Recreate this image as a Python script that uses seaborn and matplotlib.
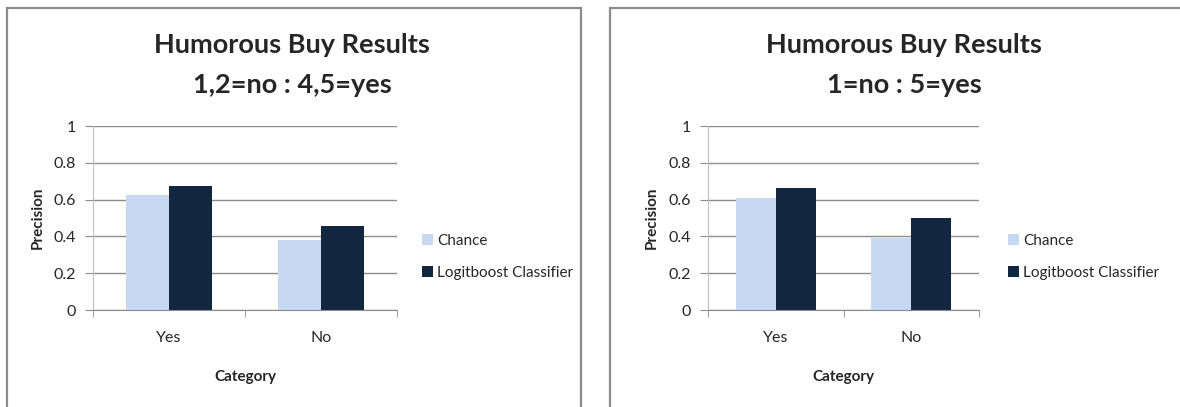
import numpy as np
import pandas as pd
import matplotlib
matplotlib.use('Agg')
import matplotlib.pyplot as plt
from matplotlib.patches import Rectangle, Patch
import seaborn as sns

# data
categories = ['Yes', 'No']
methods = ['Chance', 'Logitboost Classifier']
chance_12_45 = [0.625, 0.38]
logit_12_45 = [0.672, 0.458]
chance_1_5 = [0.61, 0.39]
logit_1_5 = [0.663, 0.50]
yticks = [0, 0.2, 0.4, 0.6, 0.8, 1.0]
ytick_labels = ['0', '0.2', '0.4', '0.6', '0.8', '1']
titles = ['1,2=no : 4,5=yes', '1=no : 5=yes']

colors = ['#C6D9F1', '#12263F']

sns.set_style('white')
plt.rcParams['font.family'] = ['Lato', 'DejaVu Sans']

W, H = 1180, 407
fig = plt.figure(figsize=(W / 100, H / 100), dpi=100)


def to_df(chance, logit):
    return pd.DataFrame({
        'Category': categories * 2,
        'Method': [methods[0]] * 2 + [methods[1]] * 2,
        'Precision': list(chance) + list(logit),
    })


def draw_panel(df, box, axrect, title2, title_x, legend_x, ylab_x, width):
    """one excel-like chart inside a grey box"""
    # grey frame around the chart
    x0, x1, y0 = box
    fig.patches.append(Rectangle((x0 / W, -0.05), (x1 - x0) / W, 1 - y0 / H + 0.05,
                                 transform=fig.transFigure, fill=False,
                                 edgecolor='#8C8C8C', linewidth=1.6))

    left, right, top, bottom = axrect
    ax = fig.add_axes([left / W, 1 - bottom / H, (right - left) / W, (bottom - top) / H])
    sns.barplot(data=df, x='Category', y='Precision', hue='Method', palette=colors,
                saturation=1, width=width, linewidth=0, ax=ax, legend=False)

    ax.set_ylim(0, 1)
    ax.set_xlim(-0.5, 1.5)
    ax.set_yticks(yticks)
    ax.set_yticklabels(ytick_labels)
    ax.yaxis.grid(True, color='#8C8C8C', linewidth=1)
    ax.set_axisbelow(True)
    for s in ['top', 'right']:
        ax.spines[s].set_visible(False)
    ax.spines['left'].set_color('#BFBFBF')
    ax.spines['bottom'].set_color('#8C8C8C')
    ax.tick_params(axis='y', length=6, color='#8C8C8C', labelsize=11.5, pad=6, left=True)
    ax.tick_params(axis='x', which='major', length=0, labelsize=11.5, pad=15)
    ax.set_xticks([-0.5, 0.5, 1.5], minor=True)
    ax.tick_params(axis='x', which='minor', length=5, color='#8C8C8C', bottom=True)

    ax.set_xlabel('Category', fontsize=11, fontweight='bold')
    ax.set_ylabel('Precision', fontsize=11, fontweight='bold')
    ax.xaxis.label.set_va('center')
    ax.yaxis.label.set_va('center')
    ax.xaxis.set_label_coords(0.5, (bottom - 377) / (bottom - top))
    ax.yaxis.set_label_coords((ylab_x - left) / (right - left), 0.5)

    # two line title
    fig.text(title_x / W, 1 - 45 / H, 'Humorous Buy Results', ha='center', va='center',
             fontsize=19.5, fontweight='bold')
    fig.text(title_x / W, 1 - 85 / H, title2, ha='center', va='center',
             fontsize=19.5, fontweight='bold')

    handles = [Patch(facecolor=c, edgecolor='none') for c in colors]
    ax.legend(handles, methods, loc='center left', bbox_to_anchor=(legend_x / W, 1 - 257 / H),
              bbox_transform=fig.transFigure, frameon=False, fontsize=11,
              handlelength=0.7, handleheight=0.7, handletextpad=0.3, labelspacing=1.2,
              borderpad=0, borderaxespad=0)
    return ax


draw_panel(to_df(chance_12_45, logit_12_45), (6.5, 581, 7.5), (93, 397, 126, 310),
           titles[0], 292, 422, 38, 0.57)
draw_panel(to_df(chance_1_5, logit_1_5), (610, 1190, 7.5), (708, 979, 126, 310),
           titles[1], 904, 1008, 652, 0.59)

fig.savefig('out.png', dpi=100)
